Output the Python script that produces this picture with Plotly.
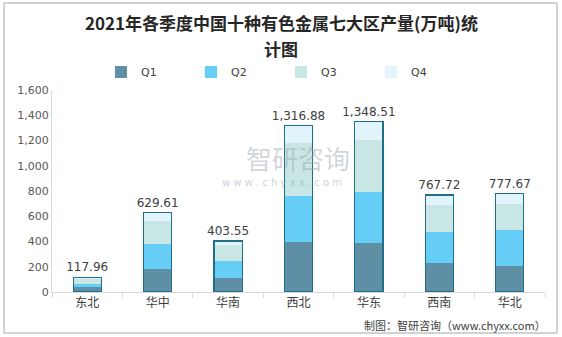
import plotly.graph_objects as go

regions = ["东北", "华中", "华南", "西北", "华东", "西南", "华北"]
q1 = [38.5, 185.0, 111.0, 398.0, 385.0, 232.0, 206.0]
q2 = [25.5, 197.0, 137.0, 365.0, 407.0, 240.0, 282.0]
q3 = [40.0, 177.0, 121.0, 417.0, 414.0, 219.0, 211.0]
q4 = [13.96, 70.61, 34.55, 136.88, 142.51, 76.72, 78.67]
totals = [117.96, 629.61, 403.55, 1316.88, 1348.51, 767.72, 777.67]
total_labels = ["117.96", "629.61", "403.55", "1,316.88", "1,348.51", "767.72", "777.67"]
series_names = ["Q1", "Q2", "Q3", "Q4"]
colors = ["#5e8fa5", "#66cdf6", "#c8e7e4", "#e1f4fb"]
title_lines = ["2021年各季度中国十种有色金属七大区产量(万吨)统", "计图"]

W, H = 562, 337
ml, mr, mt, mb = 52, 17, 90, 45
pw, ph = W - ml - mr, H - mt - mb

fig = go.Figure()
for name, vals, c in zip(series_names, [q1, q2, q3, q4], colors):
    fig.add_trace(go.Bar(x=regions, y=vals, name=name, marker=dict(color=c, line=dict(width=0)),
                         width=0.4, hoverinfo="skip"))

# outline + total label overlay
fig.add_trace(go.Bar(x=regions, y=totals, xaxis="x2", yaxis="y2", showlegend=False,
                     width=0.4, marker=dict(color="rgba(0,0,0,0)", line=dict(color="#1f6f8b", width=1.2)),
                     text=total_labels, textposition="outside", cliponaxis=False,
                     constraintext="none", textangle=0,
                     textfont=dict(size=12, color="#404040", family="DejaVu Sans")))

fig.update_layout(
    width=W, height=H, barmode="stack",
    margin=dict(l=ml, r=mr, t=mt, b=mb),
    paper_bgcolor="white", plot_bgcolor="white",
    legend=dict(orientation="h", x=(101 - ml) / pw, xanchor="left", y=1 + 18 / ph, yanchor="middle",
                entrywidth=45, entrywidthmode="pixels", itemwidth=30,
                font=dict(size=11, color="#404040", family="DejaVu Sans"), traceorder="normal"),
    xaxis=dict(type="category", showline=True, linecolor="#d9d9d9", linewidth=1,
               ticks="outside", tickcolor="#d9d9d9", ticklen=5, tickson="boundaries",
               tickfont=dict(size=12, color="#404040", family="Noto Sans CJK SC"), showgrid=False),
    yaxis=dict(range=[0, 1600], dtick=200, tickformat=",", showline=True, linecolor="#d9d9d9",
               linewidth=1, showgrid=False, ticks="", zeroline=False,
               tickfont=dict(size=11, color="#595959", family="DejaVu Sans")),
    xaxis2=dict(type="category", overlaying="x", matches="x", visible=False),
    yaxis2=dict(overlaying="y", matches="y", visible=False, range=[0, 1600]),
    showlegend=True,
)

# title (two lines as separate annotations for line spacing)
for line, ypx in zip(title_lines, [23, 48]):
    fig.add_annotation(text="<b>" + line + "</b>", xref="paper", yref="paper",
                       x=(281 - ml) / pw, y=(292 - ypx) / ph, xanchor="center", yanchor="middle",
                       showarrow=False, font=dict(size=17, color="#262626", family="Noto Sans CJK SC"))

# watermark and source
fig.add_annotation(text="智研咨询", xref="paper", yref="paper", x=(298 - ml) / pw, y=(292 - 157) / ph,
                   yanchor="middle", showarrow=False,
                   font=dict(size=26, color="rgba(150,160,175,0.45)", family="Noto Sans CJK SC"))
fig.add_annotation(text="w w w . c h y x x . c o m", xref="paper", yref="paper", x=(282 - ml) / pw,
                   y=(292 - 182) / ph, yanchor="middle", showarrow=False,
                   font=dict(size=10, color="rgba(150,160,175,0.5)", family="DejaVu Sans"))
fig.add_annotation(text="制图：智研咨询（www.chyxx.com）", xref="paper", yref="paper", x=(548 - ml) / pw,
                   y=-(325 - 292) / ph, xanchor="right", yanchor="middle", showarrow=False,
                   font=dict(size=11, color="#404040", family="Noto Sans CJK SC"))

# outer frame
fig.add_shape(type="rect", xref="paper", yref="paper",
              x0=(4 - ml) / pw, x1=(557 - ml) / pw, y0=(292 - 333) / ph, y1=(292 - 3) / ph,
              line=dict(color="#a6a6a6", width=1), fillcolor="rgba(0,0,0,0)", layer="below")

fig.write_html("out.html")
